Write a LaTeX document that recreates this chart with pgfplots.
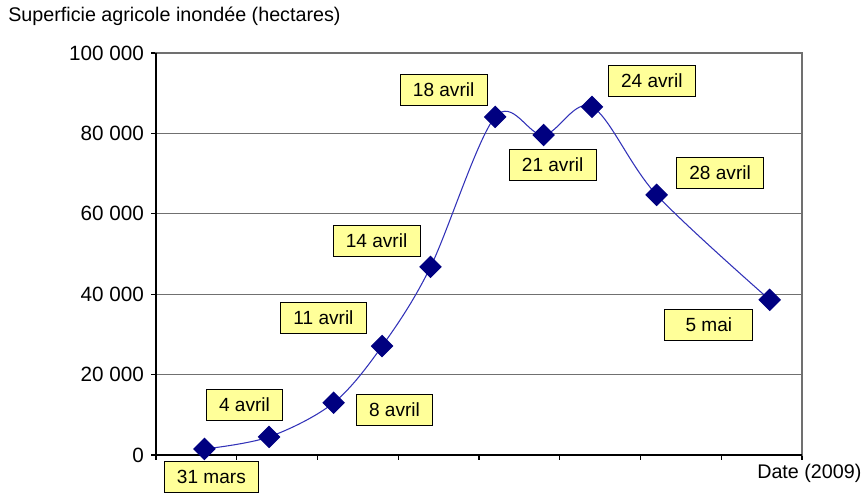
\documentclass[border=0pt]{standalone}
\usepackage{pgfplots}
\pgfplotsset{compat=1.18}
\usepackage{fontspec}
\setmainfont{Liberation Sans}
\definecolor{navy}{HTML}{000080}
\definecolor{linecol}{HTML}{3232B8}
\definecolor{boxy}{HTML}{FFFF99}
\definecolor{gridg}{HTML}{707070}
\begin{document}
\begin{tikzpicture}[lbl/.style={fill=boxy,draw=black,line width=0.7pt,inner xsep=9.5pt,minimum height=23pt,font=\fontsize{14.3}{16}\selectfont}]
\useasboundingbox (-117pt,-29.25pt) rectangle (531pt,341.25pt);
\begin{axis}[
  at={(0,0)}, anchor=south west,
  scale only axis, width=484.5pt, height=301.5pt,
  xmin=-3, xmax=37, ymin=0, ymax=100000,
  xtick={-3,2,...,37}, xticklabels={},
  ytick={0,20000,...,100000},
  yticklabels={0,20 000,40 000,60 000,80 000,100 000},
  /pgf/number format/assume math mode=true,
  tick align=outside, xtick pos=bottom, ytick pos=left,
  major tick length=3.5pt,
  tick style={black, line width=0.8pt},
  ymajorgrids, grid style={gridg, line width=1pt},
  axis line style={gridg, line width=1pt},
  ticklabel style={font=\fontsize{15.5}{17}\selectfont},
  yticklabel style={xshift=-2pt},
  clip=false,
  scaled y ticks=false,
]
\addplot[linecol, line width=0.8pt, smooth, tension=0.55, mark=square*, mark size=5.6pt,
  mark options={navy, fill=navy, rotate=45, solid}] coordinates {
  (0,1500) (4,4500) (8,13000) (11,27100) (14,46800) (18,84100) (21,79600) (24,86600) (28,64700) (35,38600)
};
\draw[black, line width=1.1pt] (axis cs:-3,100000) -- (axis cs:-3,0) -- (axis cs:37,0);
\node[lbl] at (axis cs:0.43,-5473) {31 mars};
\node[lbl] at (axis cs:2.48,12438) {4 avril};
\node[lbl] at (axis cs:11.77,11194) {8 avril};
\node[lbl] at (axis cs:7.37,34080) {11 avril};
\node[lbl] at (axis cs:10.66,53234) {14 avril};
\node[lbl] at (axis cs:14.81,90796) {18 avril};
\node[lbl] at (axis cs:21.56,72140) {21 avril};
\node[lbl] at (axis cs:27.70,93036) {24 avril};
\node[lbl] at (axis cs:31.93,70150) {28 avril};
\node[lbl, minimum width=66pt] at (axis cs:31.23,32339) {5 mai};
\end{axis}
\node[anchor=west, font=\fontsize{14.8}{16}\selectfont, inner sep=0pt] at (-111pt,329.25pt) {Superficie agricole inondée (hectares)};
\node[anchor=west, font=\fontsize{14.8}{16}\selectfont, inner sep=0pt] at (450.75pt,-13.5pt) {Date (2009)};
\end{tikzpicture}
\end{document}
